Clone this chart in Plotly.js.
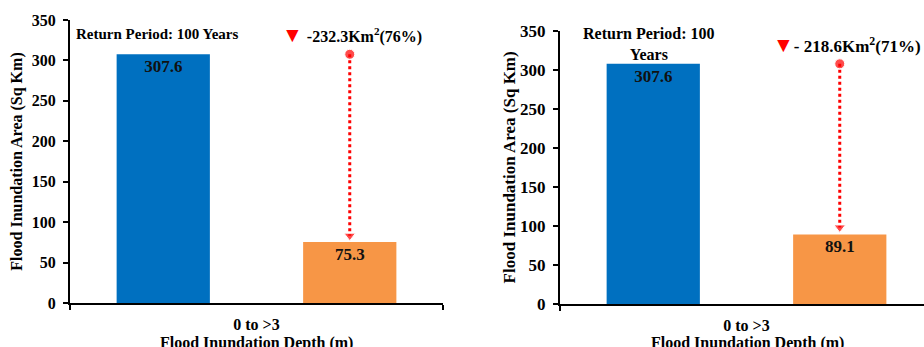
<!DOCTYPE html>
<html>
<head>
<meta charset="utf-8">
<script src="https://cdn.plot.ly/plotly-3.0.1.min.js"></script>
<style>html,body{margin:0;padding:0;background:#fff;}#chart{width:924px;height:347px;}</style>
</head>
<body>
<div id="chart"></div>
<script>
// ---- data ----
const categories = ['0 to >3'];
const leftBefore = [307.6];
const leftAfter = [75.3];
const rightBefore = [307.6];
const rightAfter = [89.1];
const leftChangeText = '-232.3Km<sup>2</sup>(76%)';
const rightChangeText = '- 218.6Km<sup>2</sup>(71%)';
const leftPeriodText = 'Return Period: 100 Years';
const rightPeriodText = 'Return Period: 100<br>Years';
const yTitle = 'Flood Inundation Area (Sq Km)';
const xTitle = 'Flood Inundation Depth (m)';

// ---- style ----
const FONT = 'Liberation Serif, Times New Roman, serif';
const BLUE = '#0070C0';
const ORANGE = '#F79646';
const RED = '#FF0000';
const barW = 0.25;
const offBefore = -0.375;
const offAfter = 0.125;
const afterCenter = offAfter + barW / 2;
const TRI = '<span style="color:#FF0000;font-size:21px">▼</span>';

function bars(xa, ya, yb, ya2, fs) {
  const common = {type: 'bar', x: categories, xaxis: xa, yaxis: ya, width: barW,
    textposition: 'inside', insidetextanchor: 'end', textangle: 0, constraintext: 'none',
    textfont: {family: FONT, size: fs, color: '#111', weight: 'bold'}, hoverinfo: 'skip', showlegend: false};
  return [
    Object.assign({}, common, {y: yb, offset: offBefore, marker: {color: BLUE}, text: yb.map(v => v.toFixed(1))}),
    Object.assign({}, common, {y: ya2, offset: offAfter, marker: {color: ORANGE}, text: ya2.map(v => v.toFixed(1))})
  ];
}

function arrow(xa, ya, before, after, gap) {
  return {type: 'scatter', mode: 'lines+markers', xaxis: xa, yaxis: ya,
    x: [afterCenter, afterCenter], y: [before[0], after[0] + gap],
    line: {color: RED, width: 3, dash: 'dot'},
    marker: {color: RED, size: [10, 10], symbol: ['circle', 'triangle-down']},
    hoverinfo: 'skip', showlegend: false};
}

const data = [
  ...bars('x', 'y', leftBefore, leftAfter, 17),
  ...bars('x2', 'y2', rightBefore, rightAfter, 17),
  arrow('x3', 'y', leftBefore, leftAfter, 8),
  arrow('x4', 'y2', rightBefore, rightAfter, 9)
];

function yax(size, tsize, domain, anchor, standoff) {
  return {domain: domain, anchor: anchor, range: [0, 350], dtick: 50, showgrid: false, zeroline: false,
    showline: true, linecolor: '#000', linewidth: 2, ticks: 'outside', ticklen: 5, tickwidth: 2, tickcolor: '#000',
    ticklabelstandoff: 4,
    tickfont: {family: FONT, size: size, color: '#000', weight: 'bold'},
    title: {text: yTitle, font: {family: FONT, size: tsize, color: '#000', weight: 'bold'}, standoff: standoff}};
}
function xax(domain, anchor, range, tsize) {
  return {domain: domain, anchor: anchor, type: 'category', range: range, showgrid: false, zeroline: false,
    showline: true, linecolor: '#000', linewidth: 2, ticks: 'outside', tickson: 'boundaries', ticklen: 5,
    tickwidth: 2, tickcolor: '#000', ticklabelstandoff: 6,
    tickfont: {family: FONT, size: tsize, color: '#000', weight: 'bold'}};
}

const W = 924, H = 347, ML = 70, MT = 20, MB = 43;
const pw = W - ML, ph = H - MT - MB;
const layout = {
  width: W, height: H,
  margin: {l: ML, r: 0, t: MT, b: MB, pad: 0},
  paper_bgcolor: '#fff', plot_bgcolor: '#fff',
  barmode: 'overlay', showlegend: false,
  font: {family: FONT, color: '#000'},
  xaxis: xax([0, 373 / pw], 'y', [-0.5, 0.5], 16),
  xaxis2: xax([(560 - ML) / pw, 1], 'y2', [-0.5, 0.5 - 9 / 373], 16),
  xaxis3: {overlaying: 'x', anchor: 'y', range: [-0.5, 0.5], visible: false},
  xaxis4: {overlaying: 'x2', anchor: 'y2', range: [-0.5, 0.5 - 9 / 373], visible: false},
  yaxis: yax(16, 16, [(H - MB - 303) / ph, 1], 'x', 5),
  yaxis2: yax(17, 17, [0, (H - MB - 30.7) / ph], 'x2', 0),
  annotations: [
    {xref: 'x domain', yref: 'y domain', x: 0.232, y: 0.95, text: leftPeriodText, showarrow: false,
     font: {family: FONT, size: 15, color: '#000', weight: 'bold'}, xanchor: 'center', yanchor: 'middle'},
    {xref: 'x2 domain', yref: 'y2 domain', x: 0.2445, y: 0.953, text: rightPeriodText, showarrow: false,
     font: {family: FONT, size: 16, color: '#000', weight: 'bold'}, xanchor: 'center', yanchor: 'middle'},
    {xref: 'x domain', yref: 'y domain', x: 0.756, y: 0.947,
     text: TRI + ' ' + leftChangeText, showarrow: false,
     font: {family: FONT, size: 16, color: '#000', weight: 'bold'}, xanchor: 'center', yanchor: 'middle'},
    {xref: 'x2 domain', yref: 'y2 domain', x: 0.788, y: 0.948,
     text: TRI + rightChangeText, showarrow: false,
     font: {family: FONT, size: 17, color: '#000', weight: 'bold'}, xanchor: 'center', yanchor: 'middle'},
    {xref: 'x domain', yref: 'y domain', x: 0.5, y: 0, yanchor: 'top', yshift: -29, text: xTitle, showarrow: false,
     font: {family: FONT, size: 16, color: '#000', weight: 'bold'}, xanchor: 'center'},
    {xref: 'x2 domain', yref: 'y2 domain', x: 0.514, y: 0, yanchor: 'top', yshift: -28, text: xTitle, showarrow: false,
     font: {family: FONT, size: 16, color: '#000', weight: 'bold'}, xanchor: 'center'}
  ]
};

Plotly.newPlot('chart', data, layout, {displayModeBar: false, staticPlot: true});
</script>
</body>
</html>
